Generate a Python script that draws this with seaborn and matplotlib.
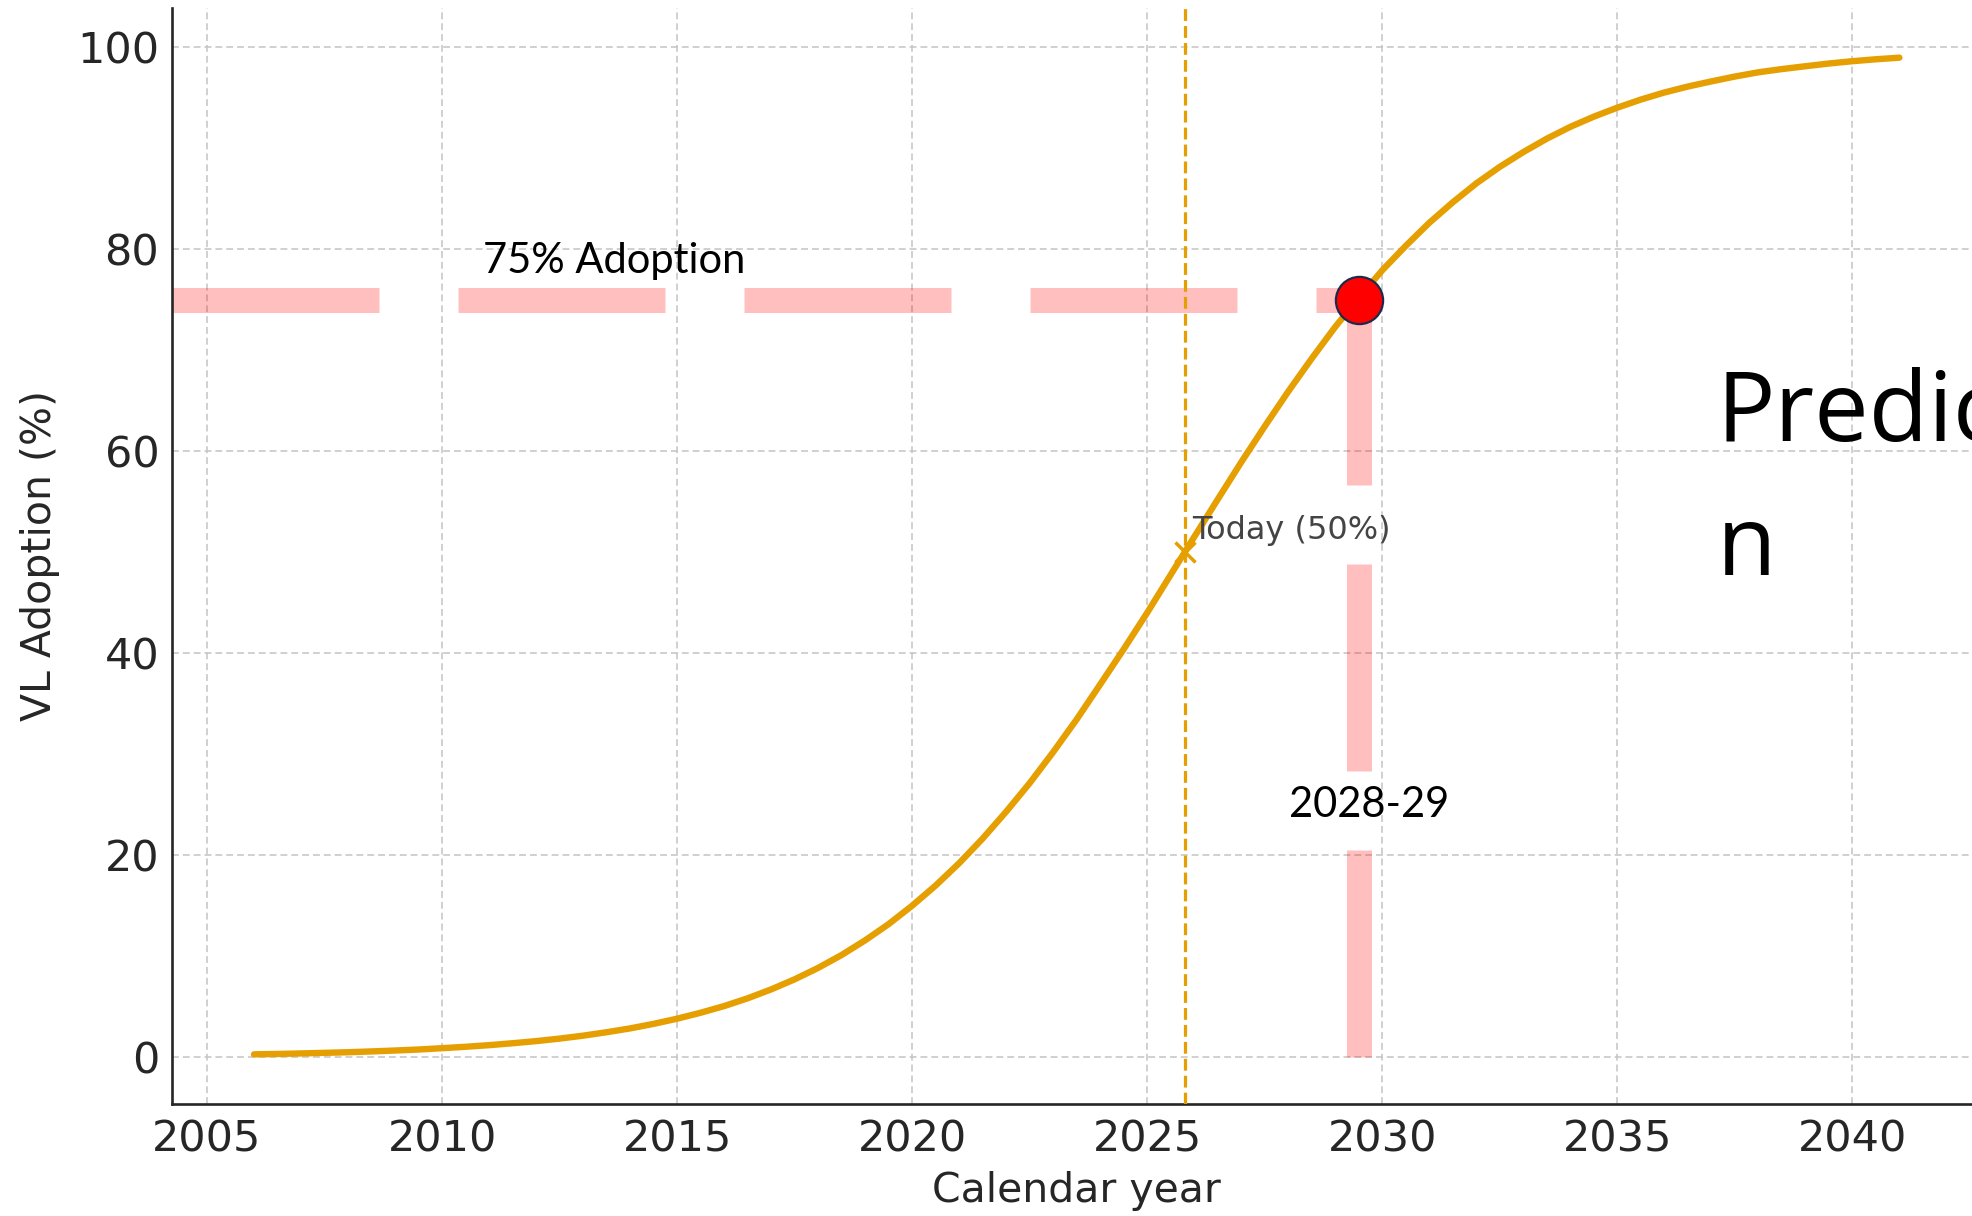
import matplotlib
matplotlib.use("Agg")
import matplotlib.pyplot as plt
import pandas as pd
import seaborn as sns

# adoption curve, every half year (percent)
years = [2006.0, 2006.5, 2007.0, 2007.5, 2008.0, 2008.5, 2009.0, 2009.5,
         2010.0, 2010.5, 2011.0, 2011.5, 2012.0, 2012.5, 2013.0, 2013.5,
         2014.0, 2014.5, 2015.0, 2015.5, 2016.0, 2016.5, 2017.0, 2017.5,
         2018.0, 2018.5, 2019.0, 2019.5, 2020.0, 2020.5, 2021.0, 2021.5,
         2022.0, 2022.5, 2023.0, 2023.5, 2024.0, 2024.5, 2025.0, 2025.5,
         2026.0, 2026.5, 2027.0, 2027.5, 2028.0, 2028.5, 2029.0, 2029.5,
         2030.0, 2030.5, 2031.0, 2031.5, 2032.0, 2032.5, 2033.0, 2033.5,
         2034.0, 2034.5, 2035.0, 2035.5, 2036.0, 2036.5, 2037.0, 2037.5,
         2038.0, 2038.5, 2039.0, 2039.5, 2040.0, 2040.5, 2041.0]
adoption = [0.27, 0.31, 0.36, 0.42, 0.48, 0.56, 0.65, 0.75,
            0.88, 1.02, 1.18, 1.37, 1.58, 1.83, 2.12, 2.46,
            2.84, 3.29, 3.80, 4.39, 5.05, 5.82, 6.70, 7.70,
            8.83, 10.11, 11.56, 13.17, 14.99, 16.99, 19.2, 21.64,
            24.3, 27.13, 30.2, 33.44, 36.9, 40.39, 44.0, 47.76,
            51.5, 55.22, 58.9, 62.45, 65.9, 69.17, 72.3, 75.16,
            77.9, 80.32, 82.6, 84.63, 86.5, 88.14, 89.6, 90.93,
            92.1, 93.11, 94.0, 94.8, 95.5, 96.09, 96.6, 97.08,
            97.5, 97.82, 98.1, 98.37, 98.6, 98.79, 98.95]

today_year = 2025.8
today_pct = 50
target_year = 2029.5
target_pct = 75

x_ticks = [2005, 2010, 2015, 2020, 2025, 2030, 2035, 2040]
y_ticks = [0, 20, 40, 60, 80, 100]

ORANGE = "#E69F00"
INK = "#262626"

sns.set_theme(style="white")
plt.rcParams["font.family"] = ["DejaVu Sans"]

df = pd.DataFrame({"year": years, "adoption": adoption})

fig = plt.figure(figsize=(19.72, 12.16), dpi=100)
ax = fig.add_axes([0.0871, 0.0919, 0.9178, 0.9018])

ax.set_xlim(2004.25, 2042.75)
ax.set_ylim(-4.67, 103.9)

ax.grid(True, color="#c4c4c4", linewidth=1.1, dashes=(4.5, 2.6))
ax.set_axisbelow(True)

# 75% guide lines (thick pink dashes)
ax.plot([2004.25, target_year], [target_pct, target_pct], color="red", alpha=0.25,
        linewidth=18, dashes=(8.28, 3.16), solid_capstyle="butt", zorder=2)
ax.plot([target_year, target_year], [0, target_pct], color="red", alpha=0.25,
        linewidth=18, dashes=(8.28, 3.16), solid_capstyle="butt", zorder=2)

ax.axvline(today_year, color=ORANGE, linestyle="--", linewidth=2.3, zorder=3)
sns.lineplot(data=df, x="year", y="adoption", ax=ax, color=ORANGE, linewidth=4.6,
             zorder=4)
ax.plot(today_year, today_pct, marker="x", color=ORANGE, markersize=15,
        markeredgewidth=2.5, zorder=5)
ax.plot(target_year, target_pct, marker="o", markersize=34, markerfacecolor="red",
        markeredgecolor="#1F2A4A", markeredgewidth=1.6, zorder=6)

ax.text(2025.95, 51.3, "Today (50%)", fontsize=23, color="#444444",
        ha="left", va="baseline", zorder=7)
ax.text(2010.88, 77.6, "75% Adoption", fontsize=30, color="black",
        family=["Lato", "DejaVu Sans"], ha="left", va="baseline", zorder=7)
ax.text(2029.72, 23.8, "2028-29", fontsize=30, color="black",
        family=["Lato", "DejaVu Sans"], ha="center", va="baseline", zorder=7)
# text box runs off the right edge, as in the source slide
ax.text(2037.12, 47.7, "Predictio\nn", fontsize=70, color="black",
        family=["Open Sans", "DejaVu Sans"], ha="left", va="baseline",
        linespacing=1.5, clip_on=False, zorder=7)

ax.set_xticks(x_ticks)
ax.set_yticks(y_ticks)
ax.tick_params(axis="both", direction="in", length=9.4, width=1.4, colors=INK,
               labelsize=31)
ax.tick_params(axis="x", pad=10)
ax.tick_params(axis="y", pad=9)

ax.set_xlabel("Calendar year", fontsize=29.5, color=INK, labelpad=8)
ax.set_ylabel("VL Adoption (%)", fontsize=29.5, color=INK, labelpad=12)

for side in ["top", "right"]:
    ax.spines[side].set_visible(False)
for side in ["left", "bottom"]:
    ax.spines[side].set_color(INK)
    ax.spines[side].set_linewidth(1.9)

fig.savefig("out.png", dpi=100)
